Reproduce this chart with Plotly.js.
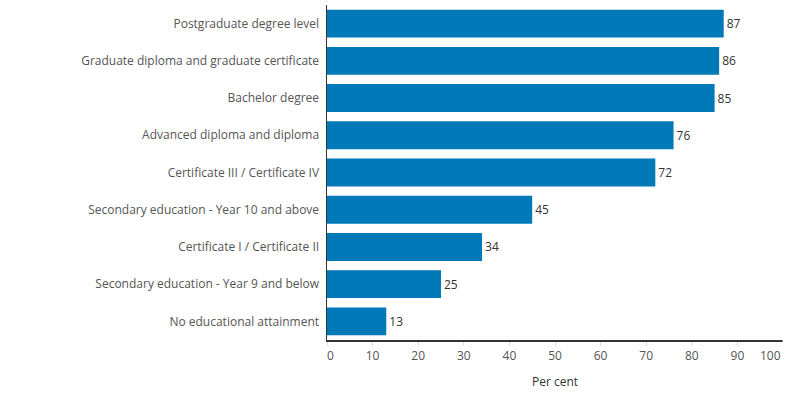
<!DOCTYPE html>
<html><head><meta charset="utf-8">
<script src="https://cdn.plot.ly/plotly-3.0.1.min.js"></script>
<style>html,body{margin:0;padding:0;background:#fff} text{font-variant-ligatures:none}</style>
</head><body>
<div id="chart" style="width:790px;height:399px"></div>
<script>
const categories = [
  "Postgraduate degree level",
  "Graduate diploma and graduate certificate",
  "Bachelor degree",
  "Advanced diploma and diploma",
  "Certificate III / Certificate IV",
  "Secondary education - Year 10 and above",
  "Certificate I / Certificate II",
  "Secondary education - Year 9 and below",
  "No educational attainment"
];
const values = [87, 86, 85, 76, 72, 45, 34, 25, 13];
const tickVals = [0,10,20,30,40,50,60,70,80,90];
const tickText = ["\u20070","10","20","30","40","50","60","70","80","90"];
const lastTick = 100;

const FONT = '"Open Sans", "Noto Sans", sans-serif';
const trace = {
  type: 'bar', orientation: 'h',
  y: categories, x: values,
  text: values.map(String), textposition: 'outside', cliponaxis: false,
  textfont: {family: FONT, size: 12, color: '#333'},
  marker: {color: '#0079B9'},
  hoverinfo: 'none'
};
const layout = {
  width: 790, height: 399,
  margin: {l: 327, r: 7, t: 5, b: 59},
  paper_bgcolor: '#fff', plot_bgcolor: '#fff',
  bargap: 0.25,
  font: {family: FONT, size: 12, color: '#555'},
  showlegend: false,
  xaxis: {
    range: [0, 100], tickvals: tickVals, ticktext: tickText, ticks: 'outside', ticklen: 4, tickcolor: '#ddd',
    showgrid: false, zeroline: false, showline: true, linecolor: '#333', linewidth: 1.5,
    tickfont: {size: 12, color: '#555'},
    title: {text: 'Per cent', font: {size: 12, color: '#333'}, standoff: 14},
    fixedrange: true
  },
  yaxis: {
    autorange: 'reversed', showgrid: false, zeroline: false, showline: true,
    linecolor: '#333', linewidth: 1.5, ticks: '', ticklabelstandoff: 4,
    tickfont: {size: 12, color: '#555'}
  },
  shapes: [{type: 'line', xref: 'x', yref: 'paper', x0: lastTick, x1: lastTick, y0: 0, y1: -0.0105,
            line: {color: '#ddd', width: 1}}],
  annotations: [{xref: 'x', yref: 'paper', x: lastTick, y: 0, yshift: -5, xanchor: 'right', yanchor: 'top',
                 text: String(lastTick), showarrow: false, font: {family: FONT, size: 12, color: '#555'}}]
};
Plotly.newPlot('chart', [trace], layout, {displayModeBar: false, staticPlot: true});
</script>
</body></html>
